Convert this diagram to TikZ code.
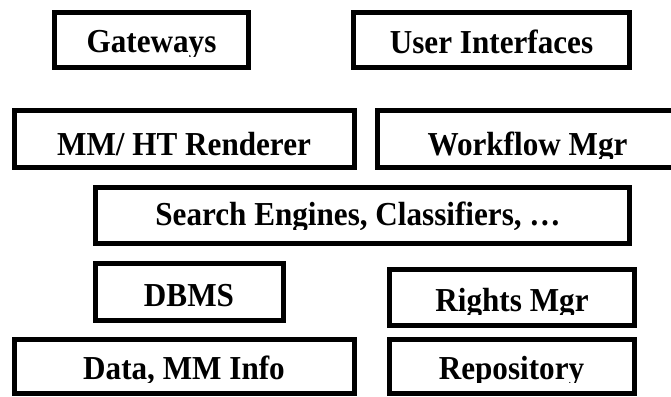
\documentclass[tikz,border=0pt]{standalone}
\usepackage{fontspec}
\setmainfont{Liberation Serif}
\newcommand\cliplabel[5]{%
  \begin{scope}
    \clip (0,0) rectangle (671,#4);
    \node[lbl] (#1) at (#2,#3) {\scalebox{0.93}[1]{#5}};
  \end{scope}}
\begin{document}
\begin{tikzpicture}[x=1pt,y=-1pt,
  box/.style={draw=black,line width=5pt,line join=miter},
  lbl/.style={anchor=base,inner sep=0pt,font=\fontsize{33.5}{33.5}\selectfont\bfseries}]
\useasboundingbox[fill=white] (0,0) rectangle (671,396);
% boxes
\draw[box] (54.5,12.5) rectangle (248.5,67.5);
\draw[box] (353.5,12.5) rectangle (629.5,67.5);
\draw[box] (14.5,110.5) rectangle (354.5,167.5);
\draw[box] (377.5,110.5) rectangle (690,167.5);
\draw[box] (95.5,187.5) rectangle (629.5,243.5);
\draw[box] (95.5,263.5) rectangle (283.5,320.5);
\draw[box] (389.5,269.5) rectangle (634.5,325.5);
\draw[box] (14.5,339.5) rectangle (354.5,393.5);
\draw[box] (389.5,339.5) rectangle (634.5,393.5);
% labels (descenders clipped as in the reference)
\cliplabel{gw}{151.5}{52.7}{56.5}{Gateways}
\cliplabel{ui}{491.5}{54}{57.5}{User Interfaces}
\cliplabel{mm}{184}{155}{159}{MM/ HT Renderer}
\cliplabel{wf}{527.5}{155}{158}{Workflow Mgr}
\cliplabel{se}{358}{225}{229}{Search Engines, Classifiers, …}
\cliplabel{db}{189}{306}{310}{DBMS}
\cliplabel{rm}{512}{311}{314.5}{Rights Mgr}
\cliplabel{dm}{184}{379}{382.5}{Data, MM Info}
\cliplabel{rp}{511.5}{379}{382.5}{Repository}
\end{tikzpicture}
\end{document}
